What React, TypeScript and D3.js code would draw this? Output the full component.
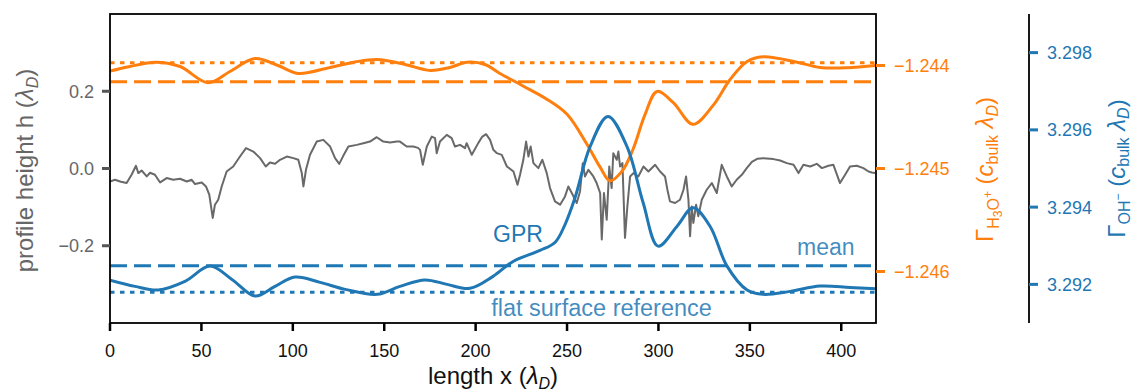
import React from 'react';
import * as d3 from 'd3';

// ---------- data ----------
const xTicks = [0, 50, 100, 150, 200, 250, 300, 350, 400];
const hTicks = [-0.2, 0.0, 0.2];
const h3oTicks = [-1.246, -1.245, -1.244];
const ohTicks = [3.292, 3.294, 3.296, 3.298];

// surface profile height h (lambda_D) vs length x
const profile: [number, number][] = [
  [0, -0.0336], [2.7, -0.0292], [6.0, -0.0343], [9.1, -0.0377], [11.8, -0.0163], [14.2, 0.007], [15.5, -0.0119],
  [17.3, -0.0052], [20.1, -0.0206], [21.9, -0.0111], [24.6, -0.0163], [27.4, -0.0361], [31.0, -0.0248], [34.6, -0.0292],
  [38.3, -0.0266], [42.0, -0.0336], [44.7, -0.0292], [46.5, -0.0403], [50.2, -0.0361], [52.5, -0.0465], [54.3, -0.0679],
  [56.2, -0.128], [57.4, -0.0937], [59.2, -0.0808], [61.1, -0.0465], [63.8, -0.0077], [67.4, 0.0052], [71.1, 0.031],
  [74.4, 0.0527], [78.4, 0.0439], [82.1, 0.0268], [85.2, 0.0052], [87.5, 0.0155], [90.3, 0.0121], [93.0, 0.0225],
  [96.7, 0.031], [100.3, 0.0268], [103.0, 0.0225], [104.9, -0.0119], [105.8, -0.0465], [107.2, -0.0034], [109.4, 0.0354],
  [113.1, 0.0697], [116.7, 0.0741], [120.4, 0.0568], [123.1, 0.0268], [125.4, 0.0121], [127.6, 0.0328], [130.4, 0.0568],
  [135.0, 0.0612], [138.6, 0.0656], [142.2, 0.0697], [145.9, 0.081], [149.5, 0.0697], [153.2, 0.0671], [156.8, 0.0697],
  [158.6, 0.0697], [162.3, 0.0568], [165.9, 0.0568], [168.5, 0.0534], [169.6, 0.0483], [171.1, 0.0095], [173.3, 0.0568],
  [176.0, 0.0826], [177.8, 0.0785], [178.7, 0.0397], [180.5, 0.0697], [184.2, 0.087], [186.9, 0.0785], [188.7, 0.0568],
  [191.5, 0.0612], [194.2, 0.0527], [195.1, 0.0656], [197.9, 0.0354], [201.5, 0.0663], [203.5, 0.0818], [205.7, 0.0888],
  [207.9, 0.0741], [209.7, 0.0483], [211.6, 0.0397], [214.3, 0.0354], [217.1, 0.0052], [220.7, -0.0077], [222.9, -0.0421],
  [224.3, -0.0163], [226.1, 0.0225], [227.6, 0.0697], [228.9, 0.031], [230.1, 0.0568], [231.6, 0.0139], [234.3, 0.001],
  [236.5, 0.0225], [238.9, -0.0119], [240.7, -0.0506], [243.4, -0.0852], [246.2, -0.0937], [248.9, -0.0723], [250.7, -0.0465],
  [252.6, -0.0635], [255.3, -0.0893], [257.1, -0.0594], [258.6, 0.0139], [259.8, -0.0206], [261.7, -0.0034], [264.4, -0.0206],
  [266.2, -0.0377], [268.1, -0.0635], [269.0, -0.184], [270.2, -0.0635], [271.7, -0.1324], [273.1, 0.0052], [274.4, -0.0506],
  [275.3, 0.0397], [277.2, 0.0225], [278.1, 0.0439], [279.0, 0.0052], [280.3, 0.0139], [281.7, -0.1796], [283.0, -0.0981],
  [284.5, -0.0206], [286.3, -0.0119], [289.0, -0.0206], [291.8, 0.0052], [294.5, -0.0077], [298.2, 0.0095], [300.9, -0.0077],
  [303.6, -0.0206], [304.9, -0.055], [306.3, -0.0852], [309.1, -0.0893], [311.8, -0.0808], [313.7, -0.055], [315.1, -0.0206],
  [316.4, -0.0808], [317.3, -0.1755], [318.2, -0.0981], [319.1, -0.1409], [320.6, -0.0937], [321.8, -0.1239], [323.7, -0.0808],
  [326.4, -0.055], [329.2, -0.0377], [331.9, -0.0635], [334.6, 0.0095], [337.4, -0.0206], [340.1, -0.0465], [342.8, -0.0292],
  [345.6, -0.0163], [348.3, 0.001], [351.1, 0.0173], [354.0, 0.025], [357.4, 0.0268], [362.9, 0.0243], [366.6, 0.0206],
  [370.2, 0.0139], [373.9, 0.0095], [376.6, -0.0119], [379.3, 0.0095], [383.0, 0.0052], [386.6, 0.0121], [389.4, 0.001],
  [393.0, 0.007], [395.7, 0.0095], [399.3, -0.0377], [402.1, -0.0163], [404.8, 0.0052], [408.5, 0.007], [412.1, 0.001],
  [414.9, -0.0077], [416.7, -0.0103], [418.5, -0.0119],
];

// GPR surface excess of H3O+ (orange, right axis)
const gprH3O: [number, number][] = [
  [0, -1.244055], [10.9, -1.24401], [24.6, -1.243968], [38.3, -1.24401], [53.6, -1.244167], [65.6, -1.244058],
  [79.3, -1.243932], [91.9, -1.244], [102.8, -1.244077], [120.4, -1.244019], [134.0, -1.243966], [146.1, -1.243942],
  [161.4, -1.24399], [175.1, -1.244048], [186.0, -1.244019], [195.3, -1.243968], [205.1, -1.24399], [213.3, -1.244077],
  [225.4, -1.244194], [239.1, -1.244329], [250.0, -1.244474], [260.9, -1.244765], [268.1, -1.244987], [273.5, -1.24512],
  [280.1, -1.245026], [286.1, -1.244813], [292.7, -1.244474], [299.2, -1.244252], [308.0, -1.244358], [318.9, -1.244571],
  [329.9, -1.244387], [339.2, -1.244136], [348.5, -1.243961], [357.2, -1.243916], [375.8, -1.243968], [388.4, -1.244019],
  [403.2, -1.244022], [419, -1.244],
];

// GPR surface excess of OH- (blue, far right axis)
const gprOH: [number, number][] = [
  [0, 3.292111], [13.7, 3.291948], [26.3, 3.291853], [41.0, 3.292078], [54.7, 3.292473], [66.7, 3.292129],
  [79.3, 3.291698], [90.3, 3.291948], [101.2, 3.292189], [114.9, 3.292052], [128.6, 3.291871], [146.1, 3.291742],
  [158.6, 3.291948], [172.3, 3.292116], [184.4, 3.292], [196.9, 3.291897], [209.5, 3.292207], [220.5, 3.292594],
  [235.2, 3.292879], [243.4, 3.293085], [248.9, 3.29355], [254.4, 3.294248], [262.6, 3.295566], [272.4, 3.296349],
  [282.8, 3.295566], [291.6, 3.294119], [299.8, 3.29299], [310.2, 3.293506], [318.9, 3.293982], [328.2, 3.293506],
  [337.5, 3.292473], [348.5, 3.291853], [357.2, 3.291742], [372.0, 3.291819], [388.4, 3.291956], [404.8, 3.291922],
  [419, 3.291889],
];

const h3oMean = -1.244157;
const h3oFlat = -1.243973;
const ohMean = 3.292483;
const ohFlat = 3.291795;

// ---------- layout ----------
const W = 1136;
const H = 391;
const L = 110, R = 876, T = 14, B = 323;
const ORANGE = '#ff7f0e';
const BLUE = '#1f77b4';
const GRAY = '#696969';
const LABELGRAY = '#666666';
const FONT = '"Liberation Sans", Arial, Helvetica, sans-serif';

export default function App() {
  const x = d3.scaleLinear().domain([0, 419]).range([L, R]);
  const yH = d3.scaleLinear().domain([-0.4, 0.4]).range([B, T]);
  const yA = d3.scaleLinear().domain([-1.2465, -1.2435]).range([B, T]);
  const yB = d3.scaleLinear().domain([3.291, 3.299]).range([B, T]);

  const lineH = d3.line<[number, number]>().x(d => x(d[0])).y(d => yH(d[1]));
  const lineA = d3.line<[number, number]>().x(d => x(d[0])).y(d => yA(d[1])).curve(d3.curveCatmullRom.alpha(0.5));
  const lineB = d3.line<[number, number]>().x(d => x(d[0])).y(d => yB(d[1])).curve(d3.curveCatmullRom.alpha(0.5));

  const f1 = d3.format('.1f');
  const f3 = d3.format('.3f');
  const BLUE_AX = 1029;

  return (
    <svg width={W} height={H} style={{ position: 'absolute', left: 0, top: 0, background: '#fff' }} fontFamily={FONT}>
      <defs>
        <clipPath id="plot">
          <rect x={L} y={T} width={R - L} height={B - T} />
        </clipPath>
      </defs>
      <rect x={0} y={0} width={W} height={H} fill="#fff" />

      <g clipPath="url(#plot)">
        <path d={lineH(profile) || ''} fill="none" stroke={GRAY} strokeWidth={2} strokeLinejoin="round" />
        <line x1={L} x2={R} y1={yA(h3oFlat)} y2={yA(h3oFlat)} stroke={ORANGE} strokeWidth={3} strokeDasharray="4.5,5.5" />
        <line x1={L} x2={R} y1={yA(h3oMean)} y2={yA(h3oMean)} stroke={ORANGE} strokeWidth={3} strokeDasharray="17,7" />
        <path d={lineA(gprH3O) || ''} fill="none" stroke={ORANGE} strokeWidth={3} />
        <line x1={L} x2={R} y1={yB(ohFlat)} y2={yB(ohFlat)} stroke={BLUE} strokeWidth={3} strokeDasharray="4.5,5.5" />
        <line x1={L} x2={R} y1={yB(ohMean)} y2={yB(ohMean)} stroke={BLUE} strokeWidth={3} strokeDasharray="17,7" />
        <path d={lineB(gprOH) || ''} fill="none" stroke={BLUE} strokeWidth={3} />
      </g>

      {/* annotations */}
      <text x={x(209.5)} y={yH(-0.19)} fill={BLUE} fontSize={23}>GPR</text>
      <text x={x(375.8)} y={yH(-0.2227)} fill={BLUE} fillOpacity={0.85} fontSize={23}>mean</text>
      <text x={x(208.5)} y={yH(-0.382)} fill={BLUE} fillOpacity={0.85} fontSize={23.5}>flat surface reference</text>

      {/* frame */}
      <rect x={L} y={T} width={R - L} height={B - T} fill="none" stroke="#000" strokeWidth={1.8} />

      {/* x axis */}
      {xTicks.map(t => (
        <g key={'x' + t}>
          <line x1={x(t)} x2={x(t)} y1={B} y2={B + 8} stroke="#000" strokeWidth={2.5} />
          <text x={x(t)} y={357} textAnchor="middle" fontSize={18} fill="#111">{t}</text>
        </g>
      ))}
      <text x={(L + R) / 2} y={384} textAnchor="middle" fontSize={24} fill="#111">
        length x (<tspan fontStyle="italic">λ</tspan><tspan dy={5} fontSize={16} fontStyle="italic">D</tspan><tspan dy={-5}>)</tspan>
      </text>

      {/* left axis */}
      {hTicks.map(t => (
        <g key={'h' + t}>
          <line x1={L - 8} x2={L} y1={yH(t)} y2={yH(t)} stroke="#555" strokeWidth={3} />
          <text x={L - 16} y={yH(t)} dy="0.36em" textAnchor="end" fontSize={18} fill={LABELGRAY}>{f1(t)}</text>
        </g>
      ))}
      <text transform={`translate(33,${(T + B) / 2 + 2}) rotate(-90)`} textAnchor="middle" fontSize={24} fill={LABELGRAY}>
        profile height h (<tspan fontStyle="italic">λ</tspan><tspan dy={5} fontSize={16} fontStyle="italic">D</tspan><tspan dy={-5}>)</tspan>
      </text>

      {/* H3O+ axis */}
      {h3oTicks.map(t => (
        <g key={'a' + t}>
          <line x1={R} x2={R + 9} y1={yA(t)} y2={yA(t)} stroke={ORANGE} strokeWidth={3} />
          <text x={R + 18} y={yA(t)} dy="0.36em" fontSize={18} fill={ORANGE}>{f3(t)}</text>
        </g>
      ))}
      <text transform={`translate(993,${(T + B) / 2 + 1}) rotate(-90)`} textAnchor="middle" fontSize={24} fill={ORANGE}>
        Γ<tspan dy={6} fontSize={16}>H</tspan><tspan dy={3} fontSize={12}>3</tspan><tspan dy={-3} fontSize={16}>O</tspan><tspan dy={-7} fontSize={12}>+</tspan><tspan dy={1} fontSize={24}> (</tspan><tspan fontStyle="italic">c</tspan><tspan dy={5} fontSize={16}>bulk</tspan><tspan dy={-5} fontSize={24} fontStyle="italic"> λ</tspan><tspan dy={5} fontSize={16} fontStyle="italic">D</tspan><tspan dy={-5} fontSize={24}>)</tspan>
      </text>

      {/* OH- axis */}
      <line x1={BLUE_AX} x2={BLUE_AX} y1={T} y2={B} stroke="#000" strokeWidth={1.8} />
      {ohTicks.map(t => (
        <g key={'b' + t}>
          <line x1={BLUE_AX} x2={BLUE_AX + 9} y1={yB(t)} y2={yB(t)} stroke={BLUE} strokeWidth={3} />
          <text x={BLUE_AX + 18} y={yB(t)} dy="0.36em" fontSize={18} fill={BLUE}>{f3(t)}</text>
        </g>
      ))}
      <text transform={`translate(1125,${(T + B) / 2}) rotate(-90)`} textAnchor="middle" fontSize={24} fill={BLUE}>
        Γ<tspan dy={5} fontSize={16}>OH</tspan><tspan dy={-8} fontSize={12}>−</tspan><tspan dy={3} fontSize={24}> (</tspan><tspan fontStyle="italic">c</tspan><tspan dy={4} fontSize={16}>bulk</tspan><tspan dy={-4} fontSize={24} fontStyle="italic"> λ</tspan><tspan dy={4} fontSize={16} fontStyle="italic">D</tspan><tspan dy={-4} fontSize={24}>)</tspan>
      </text>
    </svg>
  );
}
